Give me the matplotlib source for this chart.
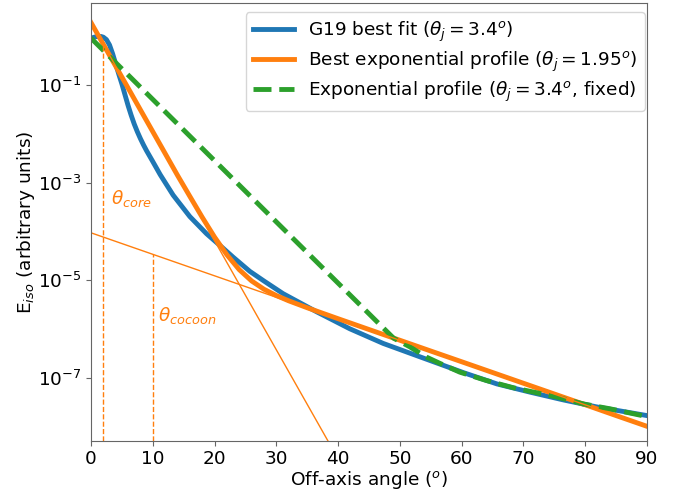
import numpy as np
import matplotlib
matplotlib.use('Agg')
import matplotlib.pyplot as plt

plt.rcParams['font.size'] = 13.3
plt.rcParams['axes.edgecolor'] = '0.4'
plt.rcParams['xtick.color'] = '0.4'
plt.rcParams['ytick.color'] = '0.4'
plt.rcParams['xtick.labelcolor'] = 'black'
plt.rcParams['ytick.labelcolor'] = 'black'

# G19 best fit
theta_g19 = [0, 0.8, 1.6, 2.0, 2.5, 3.0, 3.5, 4.0, 4.5, 5.0, 5.5, 6.0, 6.5, 7.0, 7.5,
             8.0, 8.5, 9.0, 10.0, 11.2, 13.3, 16.0, 18.7, 21.4, 23.0, 25.7, 28.0,
             31.1, 36.5, 41.9, 47.3, 53.8, 60.3, 65.7, 71.1, 76.5, 81.8, 90]
e_g19 = [0.912, 0.977, 0.99, 0.955, 0.851, 0.661, 0.437, 0.269, 0.166, 0.105,
         6.31e-2, 3.80e-2, 2.40e-2, 1.58e-2, 1.10e-2, 7.94e-3, 5.89e-3, 4.47e-3,
         2.69e-3, 1.45e-3, 5.50e-4, 2.00e-4, 8.91e-5, 4.47e-5, 2.95e-5, 1.51e-5,
         9.55e-6, 5.25e-6, 2.24e-6, 1.00e-6, 5.01e-7, 2.51e-7, 1.26e-7, 7.41e-8,
         5.01e-8, 3.47e-8, 2.51e-8, 1.66e-8]

# best exponential profile (core + cocoon)
theta_exp = [0, 2, 4, 6, 8, 10, 12, 14, 16, 18, 20, 22, 24, 26, 28, 30, 32, 35,
             40, 45, 50, 55, 60, 65, 70, 75, 80, 85, 90]
e_exp = [1.905, 0.681, 0.2427, 8.67e-2, 3.09e-2, 1.104e-2, 3.94e-3, 1.406e-3,
         5.2e-4, 1.94e-4, 7.6e-5, 3.29e-5, 1.63e-5, 9.57e-6, 6.47e-6, 4.81e-6,
         3.75e-6, 2.70e-6, 1.61e-6, 9.67e-7, 5.82e-7, 3.50e-7, 2.11e-7, 1.27e-7,
         7.64e-8, 4.60e-8, 2.77e-8, 1.66e-8, 1.0e-8]

# the two components (straight lines in log space)
theta_core_line = [0, 40]
e_core_line = [1.905, 2.15e-9]
theta_cocoon_line = [0, 90]
e_cocoon_line = [9.3e-5, 1.0e-8]

# exponential profile with theta_j fixed to 3.4 deg
theta_fix = [0, 10, 20, 30, 40, 48, 49, 51.6, 54.3, 56.5, 59.7, 64, 68.4, 75.4,
             79.7, 84, 90]
e_fix = [0.912, 5.06e-2, 2.81e-3, 1.556e-4, 8.63e-6, 8.53e-7, 6.4e-7, 4.27e-7,
         2.63e-7, 1.95e-7, 1.29e-7, 8.7e-8, 6.17e-8, 3.98e-8, 2.88e-8, 2.29e-8,
         1.58e-8]

theta_core, e_at_core = 1.95, 0.70
theta_cocoon, e_at_cocoon = 10, 3.4e-5

fig = plt.figure(figsize=(6.83, 4.91), dpi=100)
ax = fig.add_axes([91/683, 50/491, 556/683, 438/491])

ax.plot(theta_g19, e_g19, color='C0', lw=3.5, label=r'G19 best fit ($\theta_j = 3.4^o$)')
ax.plot(theta_exp, e_exp, color='C1', lw=3.5,
        label=r'Best exponential profile ($\theta_j = 1.95^o$)')
ax.plot(theta_fix, e_fix, color='C2', lw=3.5, ls='--',
        label=r'Exponential profile ($\theta_j = 3.4^o$, fixed)')

ax.plot(theta_core_line, e_core_line, color='C1', lw=1)
ax.plot(theta_cocoon_line, e_cocoon_line, color='C1', lw=1)

ylo = 5e-9
ax.plot([theta_core, theta_core], [ylo, e_at_core], color='C1', lw=1, ls='--')
ax.plot([theta_cocoon, theta_cocoon], [ylo, e_at_cocoon], color='C1', lw=1, ls='--')
ax.text(3.3, 4.8e-4, r'$\theta_{core}$', color='C1', va='center', ha='left')
ax.text(10.9, 1.9e-6, r'$\theta_{cocoon}$', color='C1', va='center', ha='left')

ax.set_yscale('log')
ax.set_xlim(0, 90)
ax.set_ylim(ylo, 4.8)
ax.set_yticks([1e-1, 1e-3, 1e-5, 1e-7])
ax.yaxis.set_minor_locator(matplotlib.ticker.NullLocator())
ax.set_xticks(np.arange(0, 91, 10))
ax.tick_params(pad=3)

ax.set_xlabel(r'Off-axis angle ($^o$)', labelpad=1)
ax.set_ylabel(r'E$_{iso}$ (arbitrary units)', labelpad=1)
ax.legend(loc='upper right', bbox_to_anchor=(0.9964, 0.9795), borderaxespad=0,
          labelspacing=0.32, handlelength=2.2)

fig.savefig('out.png', dpi=100)
